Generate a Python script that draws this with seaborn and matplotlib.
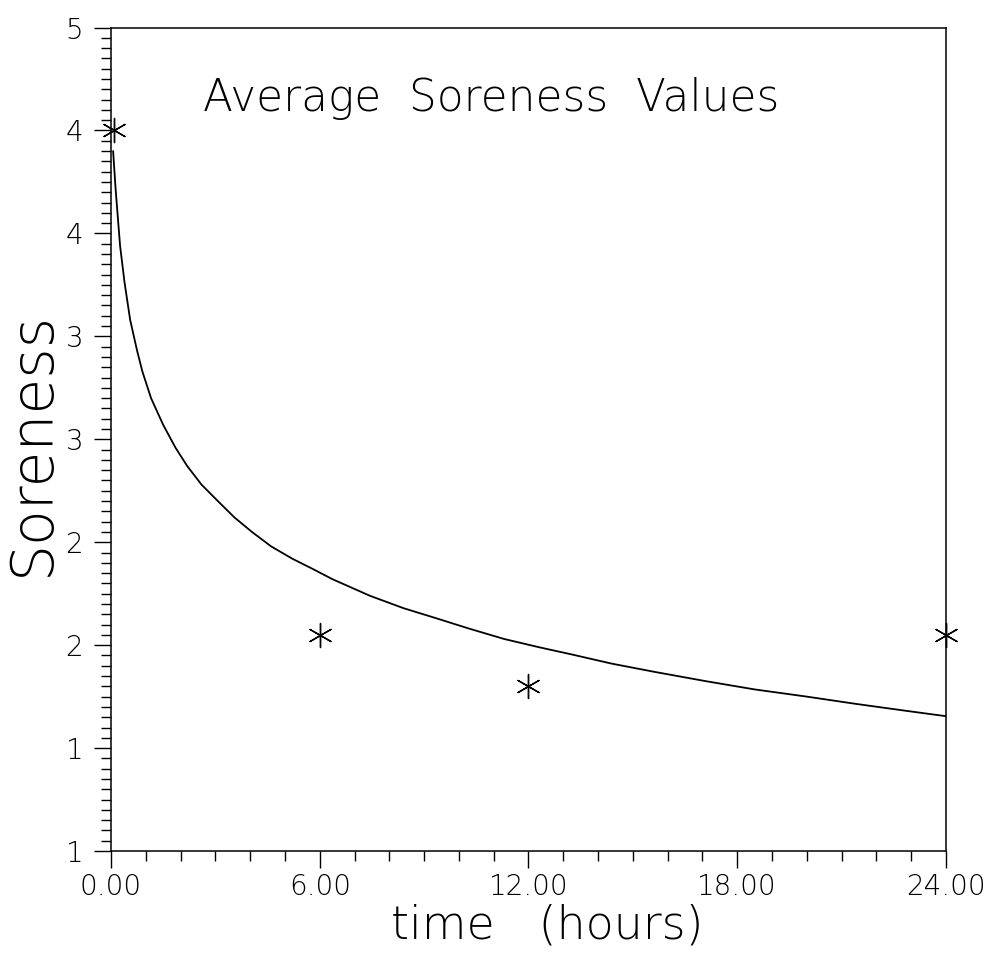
import numpy as np
import pandas as pd
import matplotlib
matplotlib.use("Agg")
import matplotlib.pyplot as plt
from matplotlib.ticker import MultipleLocator, FixedLocator, FixedFormatter
import seaborn as sns

# Observed average soreness (asterisks)
obs_time = [0.08, 6.0, 12.0, 24.0]
obs_soreness = [4.5, 2.05, 1.8, 2.05]

# Fitted curve, values
curve_time = [0.06, 0.13, 0.19, 0.26, 0.39, 0.55, 0.75, 0.90, 1.15, 1.50, 1.85,
              2.19, 2.60, 3.07, 3.55, 4.05, 4.60, 5.21, 5.80, 6.37, 7.44, 8.40,
              9.36, 10.30, 11.30, 12.30, 13.24, 14.40, 15.63, 17.1, 18.5, 20.0,
              21.4, 22.9, 24.0]
curve_soreness = [4.40, 4.22, 4.09, 3.94, 3.76, 3.58, 3.43, 3.33, 3.20, 3.07, 2.96,
                  2.87, 2.78, 2.70, 2.62, 2.55, 2.48, 2.42, 2.37, 2.32, 2.24, 2.18,
                  2.13, 2.08, 2.03, 1.99, 1.955, 1.91, 1.87, 1.825, 1.785, 1.75,
                  1.715, 1.68, 1.655]

y_ticks = [1.0, 1.5, 2.0, 2.5, 3.0, 3.5, 4.0, 4.5, 5.0]
y_tick_labels = ["1", "1", "2", "2", "3", "3", "4", "4", "5"]
x_ticks = [0, 6, 12, 18, 24]
x_tick_labels = ["0.00", "6.00", "12.00", "18.00", "24.00"]

sns.set_style("ticks")
plt.rcParams["font.family"] = ["DejaVu Sans"]
plt.rcParams["font.weight"] = "light"
plt.rcParams["axes.labelweight"] = "light"
plt.rcParams["text.color"] = "black"
plt.rcParams["axes.labelcolor"] = "black"
plt.rcParams["xtick.color"] = "black"
plt.rcParams["ytick.color"] = "black"

fig = plt.figure(figsize=(9.86, 9.56), dpi=100)
ax = fig.add_axes([0.1126, 0.1098, 0.8468, 0.8614])

curve_df = pd.DataFrame({"time": curve_time, "soreness": curve_soreness})
obs_df = pd.DataFrame({"time": obs_time, "soreness": obs_soreness})

sns.lineplot(data=curve_df, x="time", y="soreness", ax=ax, color="black",
             linewidth=1.3, sort=True, estimator=None)
sns.scatterplot(data=obs_df, x="time", y="soreness", ax=ax, marker=(6, 2, 0),
                s=300, color="black", linewidth=1.0, edgecolor="black", clip_on=False,
                zorder=5)

ax.set_xlim(0, 24)
ax.set_ylim(1, 5)

ax.xaxis.set_major_locator(FixedLocator(x_ticks))
ax.xaxis.set_major_formatter(FixedFormatter(x_tick_labels))
ax.xaxis.set_minor_locator(MultipleLocator(1))
ax.yaxis.set_major_locator(FixedLocator(y_ticks))
ax.yaxis.set_major_formatter(FixedFormatter(y_tick_labels))
ax.yaxis.set_minor_locator(MultipleLocator(0.05))

ax.tick_params(axis="both", which="major", direction="out", length=12, width=1.0,
               labelsize=20, colors="black")
ax.tick_params(axis="both", which="minor", direction="out", length=7, width=1.0,
               colors="black")
ax.tick_params(axis="y", which="major", pad=8)
ax.tick_params(axis="x", which="major", pad=4)

for sp in ax.spines.values():
    sp.set_visible(True)
    sp.set_linewidth(1.1)
    sp.set_color("black")

ax.set_xlabel("time   (hours)", fontsize=33, va="center", fontweight="light",
              color="black")
ax.xaxis.set_label_coords(0.522, -0.09)
ax.set_ylabel("Soreness", fontsize=42, va="center", fontweight="light",
              color="black")
ax.yaxis.set_label_coords(-0.094, 0.495)

ax.text(0.455, 0.914, "Average  Soreness  Values", transform=ax.transAxes,
        fontsize=31.5, ha="center", va="center", color="black", fontweight="light")

fig.savefig("out.png", dpi=100, facecolor="white")
